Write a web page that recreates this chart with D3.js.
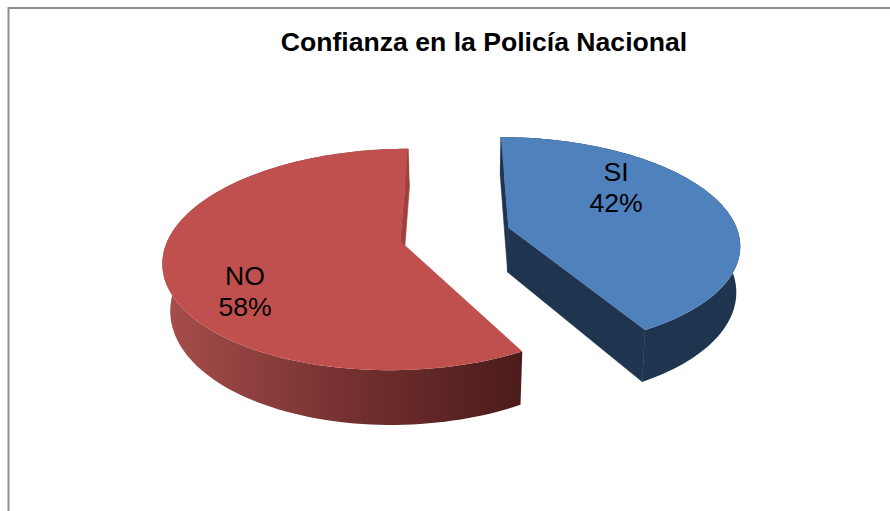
<!DOCTYPE html>
<html><head><meta charset="utf-8">
<script src="https://cdn.jsdelivr.net/npm/d3@7"></script>
<style>html,body{margin:0;padding:0;background:#fff}svg{display:block}text{font-family:"Liberation Sans",Arial,sans-serif;fill:#000}</style>
</head><body><svg id="c" width="890" height="511"></svg>
<script>
const categories = ["SI", "NO"];
const values = [42, 58];
const labels = ["42%", "58%"];
const title = "Confianza en la Policía Nacional";
const topColors = ["#4f81bd", "#c0504d"];
const cutColors = ["#1f344f", "#a0413f"];

const svg = d3.select("#c");
const W = {cx: 455, cy: 233, R: 230, Ry: 105, p: 0.165, depth: 45, k: [0.014, 0.027], exU: 0.235, exV: 0.075, apexDy: [2.5, 0]};
const project = (u, v, z, k) => {
  const w = 1 / (1 - W.p * v);
  return [W.cx + W.R * u * w * (1 - k * z), W.cy + W.Ry * v * w + W.depth * z * w];
};
const arcs = d3.pie().sort(null).startAngle(0).endAngle(2 * Math.PI)(values);
const line = d3.line();

const defs = svg.append("defs");
const grad = defs.append("linearGradient").attr("id", "rim").attr("gradientUnits", "userSpaceOnUse")
  .attr("x1", 165).attr("x2", 525).attr("y1", 0).attr("y2", 0);
[[0, "#a64e4b"], [0.5, "#753130"], [1, "#4a1b1a"]].forEach(([o, c]) => grad.append("stop").attr("offset", o).attr("stop-color", c));
const rimFill = ["#1f344f", "url(#rim)"];

svg.append("path").attr("d", "M8.5 511V8H890").attr("fill", "none").attr("stroke", "#8f8f8f").attr("stroke-width", 2);

arcs.forEach((a, i) => {
  const sgn = i === 0 ? 1 : -1;
  const P = (t, r, z) => {
    const p = project(sgn * W.exU + r * Math.sin(t), -sgn * W.exV - r * Math.cos(t), z, W.k[i]);
    return r === 0 ? [p[0], p[1] + W.apexDy[i]] : p;
  };
  const ts = d3.range(0, 121).map(j => a.startAngle + (a.endAngle - a.startAngle) * j / 120);
  const g = svg.append("g");
  g.append("path").attr("d", line([...ts.map(t => P(t, 1, 0)), ...ts.slice().reverse().map(t => P(t, 1, 1))]) + "Z").attr("fill", rimFill[i]);
  [a.startAngle, a.endAngle].forEach(t => {
    if (i === 1 && t === a.startAngle) return;
    g.append("path").attr("d", line([P(t, 0, 0), P(t, 1, 0), P(t, 1, 1), P(t, 0, 1)]) + "Z")
      .attr("fill", cutColors[i]).attr("stroke", cutColors[i]).attr("stroke-width", 0.6);
  });
  g.append("path").attr("d", line([P(0, 0, 0), ...ts.map(t => P(t, 1, 0))]) + "Z").attr("fill", topColors[i]);
});

svg.append("text").attr("x", 484).attr("y", 51).attr("text-anchor", "middle").attr("font-size", 26.6).attr("font-weight", "bold").text(title);
const labelX = [616, 245], labelY = [181, 285];
categories.forEach((c, i) => {
  const t = svg.append("text").attr("text-anchor", "middle").attr("font-size", 26.6);
  t.append("tspan").attr("x", labelX[i]).attr("y", labelY[i]).text(c);
  t.append("tspan").attr("x", labelX[i]).attr("dy", 31).text(labels[i]);
});
</script></body></html>
